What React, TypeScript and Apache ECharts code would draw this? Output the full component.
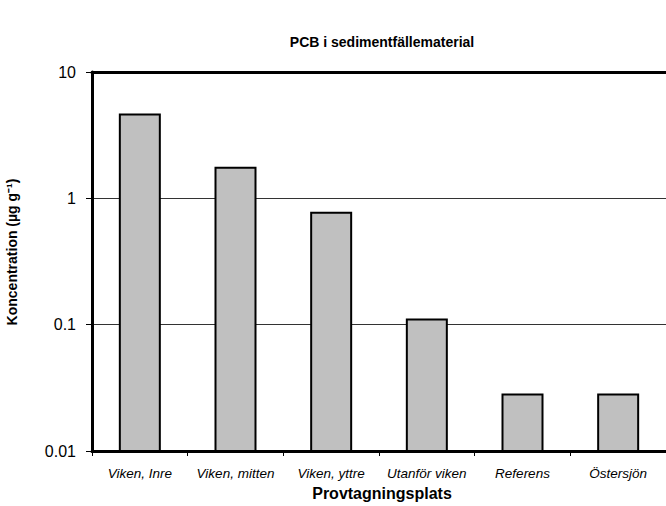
import React, { useEffect, useRef } from "react";
import * as echarts from "echarts";

const categories = ["Viken, Inre", "Viken, mitten", "Viken, yttre", "Utanför viken", "Referens", "Östersjön"];
const pcbValues = [4.6, 1.75, 0.77, 0.11, 0.028, 0.028];
const yTicks = [0.01, 0.1, 1, 10];

const FONT = "Arial, 'Liberation Sans', sans-serif";

export default function App() {
  const ref = useRef<HTMLDivElement>(null);
  useEffect(() => {
    if (!ref.current) return;
    const chart = echarts.init(ref.current, undefined, { renderer: "svg" });
    const yMin = yTicks[0];
    chart.setOption({
      animation: false,
      backgroundColor: "#ffffff",
      title: {
        text: "PCB i sedimentfällematerial",
        left: 377,
        top: 30,
        textAlign: "center",
        textStyle: { fontFamily: FONT, fontSize: 14, fontWeight: "bold", color: "#000" },
      },
      grid: { left: 92, top: 72, width: 582, height: 379, containLabel: false },
      xAxis: [
        {
          type: "category",
          data: categories,
          position: "bottom",
          axisLine: { lineStyle: { color: "#000", width: 3 } },
          axisTick: { show: true, length: 5, lineStyle: { color: "#000", width: 1 } },
          axisLabel: {
            interval: 0,
            hideOverlap: false,
            fontFamily: FONT,
            fontSize: 13.5,
            fontStyle: "italic",
            color: "#000",
            margin: 15,
          },
        },
        {
          type: "category",
          data: categories,
          position: "top",
          axisLine: { lineStyle: { color: "#000", width: 3 } },
          axisTick: { show: false },
          axisLabel: { show: false },
        },
      ],
      yAxis: {
        type: "log",
        logBase: 10,
        min: yMin,
        max: yTicks[yTicks.length - 1],
        axisLine: { show: true, lineStyle: { color: "#000", width: 3 } },
        axisTick: { show: true, length: 6, lineStyle: { color: "#000", width: 1 } },
        axisLabel: {
          fontFamily: FONT,
          fontSize: 16,
          color: "#000",
          margin: 16,
          formatter: (v: number) => {
            const found = yTicks.find((t) => Math.abs(t - v) / t < 1e-6);
            return found !== undefined ? String(found) : "";
          },
        },
        splitLine: { show: true, lineStyle: { color: "#333", width: 1 } },
      },
      graphic: [
        {
          type: "text",
          x: 12,
          y: 252,
          rotation: Math.PI / 2,
          style: {
            text: "Koncentration (µg g⁻¹)",
            fontFamily: FONT,
            fontSize: 14,
            fontWeight: "bold",
            fill: "#000",
            textAlign: "center",
            textVerticalAlign: "middle",
          },
        },
        {
          type: "text",
          x: 382,
          y: 493,
          style: {
            text: "Provtagningsplats",
            fontFamily: FONT,
            fontSize: 16,
            fontWeight: "bold",
            fill: "#000",
            textAlign: "center",
            textVerticalAlign: "middle",
          },
        },
      ],
      series: [
        {
          type: "custom",
          xAxisIndex: 0,
          data: pcbValues.map((v, i) => [i, v]),
          renderItem: (params: any, api: any) => {
            const idx = api.value(0);
            const val = api.value(1);
            const top = api.coord([idx, val]);
            const bottom = api.coord([idx, yMin]);
            const w = 40;
            return {
              type: "rect",
              shape: { x: top[0] - w / 2, y: top[1], width: w, height: bottom[1] - top[1] },
              style: { fill: "#c0c0c0", stroke: "#000", lineWidth: 2 },
            };
          },
        },
      ],
    });
    return () => chart.dispose();
  }, []);
  return (
    <div
      ref={ref}
      style={{ position: "fixed", left: 0, top: 0, width: 666, height: 506 }}
    />
  );
}
